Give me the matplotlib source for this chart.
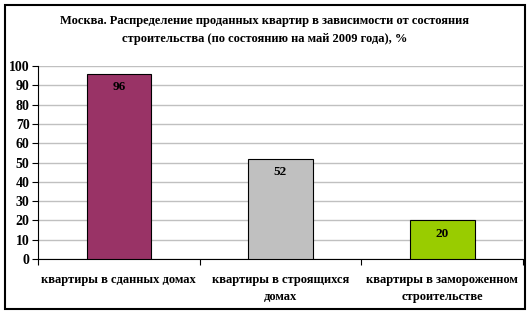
import matplotlib
matplotlib.use("Agg")
import matplotlib.pyplot as plt
from matplotlib.patches import Rectangle

categories = ["квартиры в сданных домах", "квартиры в строящихся\nдомах",
              "квартиры в замороженном\nстроительстве"]
values = [96, 52, 20]
colors = ["#993366", "#C0C0C0", "#99CC00"]
title = "Москва. Распределение проданных квартир в зависимости от состояния\nстроительства (по состоянию на май 2009 года), %"

plt.rcParams['font.family'] = ['Liberation Serif', 'DejaVu Serif']
plt.rcParams['font.weight'] = 'bold'

fig = plt.figure(figsize=(5.32, 3.13), dpi=100)
ax = fig.add_axes([38 / 532, 1 - 259 / 313, (523 - 38) / 532, (259 - 66) / 313])

x = range(len(values))
ax.bar(x, values, width=0.4, color=colors, edgecolor="black", linewidth=0.8, zorder=3)
for i, v in enumerate(values):
    ax.text(i, v - 7, str(v), ha="center", va="center", fontsize=9.5, fontweight="bold", zorder=4)

ax.set_xlim(-0.5, len(values) - 0.5)
ax.set_ylim(0, 100)
ax.set_yticks(range(0, 101, 10))
ax.yaxis.grid(True, color="#C0C0C0", linewidth=1, zorder=0)
ax.set_xticks([-0.5, 0.5, 1.5, 2.5])
ax.set_xticklabels([])
ax.set_xticks(list(x), minor=True)
ax.set_xticklabels(categories, minor=True, fontsize=9, fontweight="bold", linespacing=1.55)
ax.tick_params(axis="x", which="minor", length=0, pad=11)
ax.tick_params(axis="x", which="major", length=4, width=0.8)
ax.tick_params(axis="y", length=4, width=0.8, labelsize=10, pad=2)
for s in ["top", "right"]:
    ax.spines[s].set_visible(False)
ax.spines["left"].set_linewidth(0.8)
ax.spines["bottom"].set_linewidth(0.8)

fig.text(265 / 532, 1 - 30 / 313, title, ha="center", va="center", fontsize=9,
         fontweight="bold", linespacing=1.75)

fig.patches.append(Rectangle((5 / 532, 1 - 309 / 313), 520 / 532, 304 / 313,
                             transform=fig.transFigure, fill=False, edgecolor="black",
                             linewidth=1.5))

fig.savefig("out.png", dpi=100)
